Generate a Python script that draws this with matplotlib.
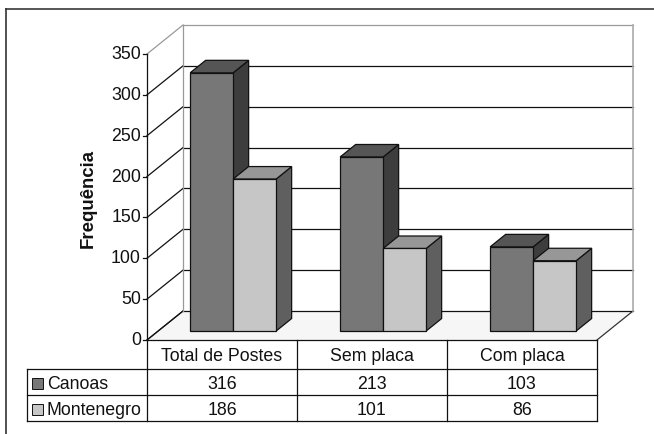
import numpy as np
import matplotlib
matplotlib.use("Agg")
import matplotlib.pyplot as plt
from matplotlib.patches import Polygon, Rectangle

# data
categories = ["Total de Postes", "Sem placa", "Com placa"]
series_names = ["Canoas", "Montenegro"]
canoas = [316, 213, 103]
montenegro = [186, 101, 86]
values = [canoas, montenegro]
yticks = [0, 50, 100, 150, 200, 250, 300, 350]

plt.rcParams['font.family'] = ['Liberation Sans', 'DejaVu Sans']

# colours per series: front, top, side
face_cols = [("#777777", "#555555", "#3d3d3d"),
             ("#c6c6c6", "#979797", "#5f5f5f")]

# geometry of the pseudo 3d box (pixels)
W, H = 654, 434
X0, X1 = 147, 597          # front floor edge / table
Y0 = 340                   # front floor line (value 0)
VMAX = 350
PX = (Y0 - 54) / VMAX      # pixels per unit
DX, DY = 36, -29           # full depth offset
COLW = (X1 - X0) / len(categories)
BARW = 43
T1, T2 = 0.31, 0.74        # depth range of the bars
FS = 12.8


def proj(x, v, t):
    return (x + DX * t, Y0 - v * PX + DY * t)


fig = plt.figure(figsize=(W / 100, H / 100), dpi=100)
ax = fig.add_axes([0, 0, 1, 1])
ax.set_xlim(0, W)
ax.set_ylim(H, 0)
ax.axis("off")

lw = 0.9

# outer frame (top and left only)
ax.plot([6, W], [9, 9], color="#555555", lw=1.4)
ax.plot([6, 6], [9, H], color="#333333", lw=1.2)

# floor
floor = [proj(X0, 0, 0), proj(X0, 0, 1), proj(X1, 0, 1), proj(X1, 0, 0)]
ax.add_patch(Polygon(floor, closed=True, fc="#f6f6f6", ec="none", zorder=1))
ax.plot(*zip(proj(X1, 0, 0), proj(X1, 0, 1)), color="#333333", lw=lw, zorder=2)
ax.plot(*zip(proj(X0, 0, 0), proj(X0, 0, 1)), color="#333333", lw=lw, zorder=2)

# back wall gridlines and left wall diagonals
for v in yticks:
    col = "#999999" if v == VMAX else "#111111"
    ax.plot(*zip(proj(X0, v, 1), proj(X1, v, 1)), color=col, lw=lw, zorder=2)
    ax.plot(*zip(proj(X0, v, 0), proj(X0, v, 1)), color=col, lw=lw, zorder=2)
    # tick mark and label
    x, y = proj(X0, v, 0)
    ax.plot([x - 4, x], [y, y], color="#111111", lw=lw, zorder=2)
    ax.text(x - 6, y + 0.5, str(v), ha="right", va="center", fontsize=FS, color="#111111")

# wall edges
ax.plot(*zip(proj(X0, 0, 1), proj(X0, VMAX, 1)), color="#999999", lw=lw, zorder=2)
ax.plot(*zip(proj(X1, 0, 1), proj(X1, VMAX, 1)), color="#aaaaaa", lw=1.2, zorder=2)
ax.plot(*zip(proj(X0, 0, 0), proj(X0, VMAX, 0)), color="#111111", lw=lw, zorder=2)

# bars
for i in range(len(categories)):
    cx = X0 + COLW * (i + 0.5)
    for s, vals in enumerate(values):
        v = vals[i]
        xl = cx - BARW + BARW * s
        xr = xl + BARW
        front, top, side = face_cols[s]
        side_poly = [proj(xr, 0, T1), proj(xr, 0, T2), proj(xr, v, T2), proj(xr, v, T1)]
        top_poly = [proj(xl, v, T1), proj(xl, v, T2), proj(xr, v, T2), proj(xr, v, T1)]
        front_poly = [proj(xl, 0, T1), proj(xr, 0, T1), proj(xr, v, T1), proj(xl, v, T1)]
        for poly, fc in ((side_poly, side), (top_poly, top), (front_poly, front)):
            ax.add_patch(Polygon(poly, closed=True, fc=fc, ec="#111111", lw=lw, zorder=3))

# y axis title
ax.text(88, 198, "Frequência", rotation=90, ha="center", va="center",
        fontsize=13.4, fontweight="bold", color="#111111")

# data table
row_y = [340, 369, 395, 421]
leg_x = 27
col_x = [X0 + COLW * k for k in range(len(categories) + 1)]
tc = "#111111"
# horizontal lines
ax.plot([X0, X1], [row_y[0], row_y[0]], color=tc, lw=lw)
for y in row_y[1:]:
    ax.plot([leg_x, X1], [y, y], color=tc, lw=lw)
# vertical lines
for x in col_x:
    ax.plot([x, x], [row_y[0], row_y[-1]], color=tc, lw=lw)
ax.plot([leg_x, leg_x], [row_y[1], row_y[-1]], color=tc, lw=lw)

for k, name in enumerate(categories):
    ax.text((col_x[k] + col_x[k + 1]) / 2, (row_y[0] + row_y[1]) / 2 + 2, name,
            ha="center", va="center", fontsize=FS, color=tc)
for s, (name, vals) in enumerate(zip(series_names, values)):
    yc = (row_y[s + 1] + row_y[s + 2]) / 2
    ax.add_patch(Rectangle((32, yc - 4), 11, 11, fc=face_cols[s][0],
                           ec="#111111", lw=0.7))
    ax.text(47, yc + 2.5, name, ha="left", va="center", fontsize=FS, color=tc)
    for k, v in enumerate(vals):
        ax.text((col_x[k] + col_x[k + 1]) / 2, yc + 2.5, str(v),
                ha="center", va="center", fontsize=FS, color=tc)

fig.savefig("out.png", dpi=100)
